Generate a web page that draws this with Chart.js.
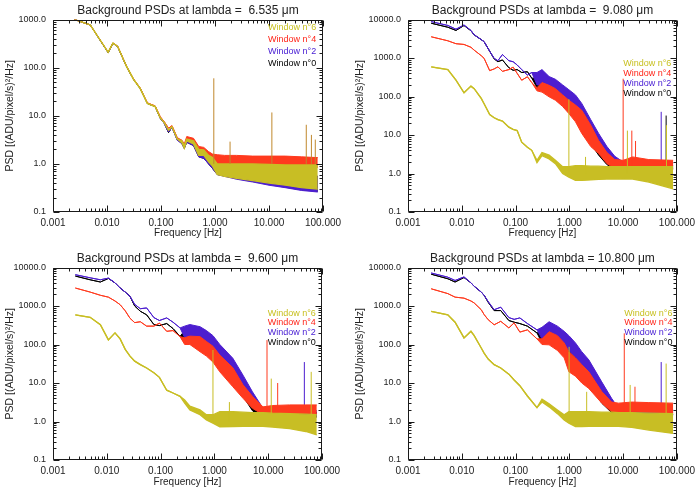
<!DOCTYPE html>
<html>
<head>
<meta charset="utf-8">
<script src="https://cdn.jsdelivr.net/npm/chart.js@4.4.1/dist/chart.umd.min.js"></script>
<style>
  html, body { margin: 0; padding: 0; background: #fff; }
  #wrap { position: relative; width: 700px; height: 495px; }
  .panel { position: absolute; }
</style>
</head>
<body>
<div id="wrap">
  <div class="panel" style="left:0;top:0;width:350px;height:245px"><canvas id="c1"></canvas></div>
  <div class="panel" style="left:350px;top:0;width:350px;height:245px"><canvas id="c2"></canvas></div>
  <div class="panel" style="left:0;top:245px;width:350px;height:250px"><canvas id="c3"></canvas></div>
  <div class="panel" style="left:350px;top:245px;width:350px;height:250px"><canvas id="c4"></canvas></div>
</div>
<script>
/* Background PSDs - 4 panneaux log-log */

// ---- donnees ----
const xDecades = [0.001, 0.01, 0.1, 1, 10, 100];
const yDecadesSmall = [0.1, 1, 10, 100, 1000];
const yDecadesBig = [0.1, 1, 10, 100, 1000, 10000];
const windows = [6, 4, 2, 0];
const spikeBase = 1;

// panneau 1 : lambda = 6.535
const p1LineFreq = [0.0025, 0.0049, 0.0105, 0.0129, 0.0157, 0.023, 0.031, 0.041, 0.056, 0.078, 0.097, 0.115, 0.138, 0.16, 0.2];
const p1W6Line = [1000, 770, 208, 322, 277, 106, 57, 37, 18, 15.5, 9.0, 7.2, 5.0, 5.9, 3.3];
const p1W4Line = [1000, 770, 210, 325, 280, 107, 58, 38, 18.5, 16, 9.5, 7.5, 5.5, 6.2, 3.5];
const p1W2Line = [1000, 770, 205, 320, 275, 105, 57, 37, 18, 15.5, 8.8, 6.9, 4.6, 5.7, 3.1];
const p1W0Line = [1000, 770, 205, 320, 275, 105, 57, 37, 18, 15.5, 8.9, 7.0, 4.5, 5.8, 3.2];
const p1BandFreq = [0.245, 0.27, 0.30, 0.40, 0.50, 0.62, 0.76, 0.9, 1.1, 1.5, 2.5, 5, 10, 20, 40, 80];
const p1W6Hi = [3.0, 2.4, 3.3, 3.0, 2.0, 1.95, 1.5, 1.35, 1.0, 1.0, 1.0, 1.0, 0.98, 0.95, 0.95, 0.95];
const p1W6Lo = [2.7, 2.1, 3.0, 2.6, 1.5, 1.5, 1.1, 0.9, 0.6, 0.55, 0.5, 0.45, 0.4, 0.36, 0.32, 0.3];
const p1W4Hi = [3.1, 2.6, 3.7, 3.4, 2.3, 2.2, 1.8, 1.6, 1.55, 1.5, 1.5, 1.45, 1.45, 1.45, 1.4, 1.35];
const p1W4Lo = [2.8, 2.3, 3.2, 2.7, 1.7, 1.7, 1.3, 1.15, 0.95, 0.95, 0.95, 0.92, 0.9, 0.9, 0.88, 0.85];
const p1W2Hi = [2.9, 2.3, 3.1, 2.8, 1.8, 1.8, 1.4, 1.2, 0.85, 0.85, 0.8, 0.75, 0.7, 0.65, 0.6, 0.55];
const p1W2Lo = [2.6, 2.1, 2.8, 2.4, 1.4, 1.3, 1.0, 0.8, 0.6, 0.55, 0.48, 0.42, 0.36, 0.32, 0.28, 0.26];
const p1W0Hi = [2.9, 2.3, 3.1, 2.8, 1.8, 1.8, 1.4, 1.2, 0.85, 0.85, 0.8, 0.75, 0.7, 0.65, 0.6, 0.55];
const p1W0Lo = [2.6, 2.1, 2.8, 2.4, 1.4, 1.3, 1.0, 0.8, 0.6, 0.56, 0.5, 0.44, 0.38, 0.33, 0.29, 0.27];
const p1SpikeFreq = [0.95, 1.9, 11.3, 49, 61, 72];
const p1SpikeTop = [60, 2.9, 11.7, 6.5, 4.0, 3.2];
const p1SpikeWin = [-1, -1, -1, -1, -1, -1];

// panneau 2 : lambda = 9.080
const p2LineFreq = [0.0027, 0.0055, 0.0078, 0.011, 0.0148, 0.017, 0.023, 0.026, 0.033, 0.04, 0.047, 0.057, 0.075, 0.09, 0.107, 0.13, 0.166, 0.2];
const p2W6Line = [590, 500, 265, 125, 186, 160, 89, 65, 34, 28, 25, 23, 16, 14, 13, 6.5, 4.8, 4.0];
const p2W4Line = [3560, 2800, 2350, 2250, 1900, 1600, 1150, 980, 470, 520, 590, 450, 500, 580, 400, 265, 325, 230];
const p2W2Line = [8800, 7000, 5600, 7200, 5200, 4000, 3000, 2650, 1500, 980, 850, 1230, 850, 800, 660, 500, 360, 420];
const p2W0Line = [8000, 6300, 5200, 7000, 5100, 4000, 3000, 2650, 1500, 950, 800, 890, 560, 480, 500, 420, 440, 300];
const p2BandFreq = [0.25, 0.31, 0.42, 0.55, 0.75, 0.98, 1.3, 1.7, 2.5, 3.5, 5, 7, 10, 15, 30, 85];
const p2W6Hi = [2.2, 3.5, 3.0, 2.2, 1.5, 1.5, 1.6, 1.6, 1.55, 1.55, 1.5, 1.5, 1.5, 1.5, 1.5, 1.5];
const p2W6Lo = [1.9, 2.9, 2.4, 1.8, 1.0, 0.8, 0.66, 0.66, 0.68, 0.7, 0.72, 0.72, 0.73, 0.72, 0.6, 0.4];
const p2W4Hi = [170, 230, 195, 160, 110, 80, 60, 44, 18, 7.2, 3.5, 2.3, 2.2, 2.7, 2.3, 2.2];
const p2W4Lo = [140, 130, 98, 80, 55, 36, 22, 11, 5, 3.3, 1.8, 1.35, 1.35, 1.4, 1.4, 1.35];
const p2W2Hi = [420, 500, 330, 280, 200, 150, 110, 66, 25, 11, 5, 2.8, 2.0, 1.9, 1.8, 1.8];
const p2W2Lo = [200, 200, 150, 120, 90, 60, 40, 20, 8, 4, 2.2, 1.6, 1.4, 1.4, 1.4, 1.4];
const p2W0Hi = [300, 330, 280, 240, 170, 130, 90, 55, 20, 9, 4.2, 2.4, 1.8, 1.7, 1.6, 1.6];
const p2W0Lo = [170, 160, 130, 100, 70, 45, 30, 15, 6, 3, 1.7, 1.3, 1.25, 1.3, 1.3, 1.3];
const p2SpikeFreq = [0.98, 2.0, 10, 12, 14.5, 17, 51, 63, 64];
const p2SpikeTop = [85, 2.7, 290, 13, 13, 7, 40, 32, 18];
const p2SpikeWin = [6, 6, 4, 6, 4, 4, 2, 0, 6];

// panneau 3 : lambda = 9.600
const p3LineFreq = [0.0026, 0.0049, 0.0076, 0.0107, 0.0142, 0.0177, 0.022, 0.027, 0.033, 0.042, 0.055, 0.075, 0.095, 0.13, 0.17, 0.23];
const p3W6Line = [590, 510, 325, 132, 200, 140, 75, 50, 37, 30, 24.5, 18.5, 14, 6.5, 5.5, 4.5];
const p3W4Line = [2930, 2300, 1900, 1700, 1350, 1080, 750, 480, 370, 390, 300, 300, 360, 220, 230, 160];
const p3W2Line = [6500, 5400, 4800, 5300, 4000, 2930, 2300, 1780, 1100, 850, 890, 500, 420, 490, 380, 270];
const p3W0Line = [6000, 4800, 4200, 5200, 4000, 2930, 2300, 1780, 1000, 730, 590, 330, 310, 350, 260, 163];
const p3BandFreq = [0.28, 0.35, 0.54, 0.71, 0.94, 1.26, 2.2, 3.4, 5.1, 8, 12, 25, 50, 80];
const p3W6Hi = [3.6, 2.5, 2.0, 1.5, 1.5, 1.8, 1.8, 1.75, 1.7, 1.7, 1.65, 1.6, 1.55, 1.5];
const p3W6Lo = [3.0, 2.0, 1.5, 1.1, 0.9, 0.73, 0.74, 0.75, 0.75, 0.75, 0.72, 0.65, 0.55, 0.45];
const p3W4Hi = [150, 165, 160, 120, 90, 53, 25, 9, 4.5, 2.4, 2.6, 2.7, 2.7, 2.7];
const p3W4Lo = [100, 100, 65, 50, 35, 19.5, 8, 4, 2.2, 1.5, 1.55, 1.6, 1.6, 1.6];
const p3W2Hi = [300, 330, 290, 230, 170, 100, 44, 16, 5.9, 2.2, 2.0, 1.9, 1.9, 1.9];
const p3W2Lo = [150, 150, 120, 90, 60, 35, 15, 6, 2.5, 1.5, 1.4, 1.4, 1.4, 1.4];
const p3W0Hi = [230, 250, 220, 180, 130, 80, 35, 13, 4.5, 2.0, 1.8, 1.7, 1.7, 1.7];
const p3W0Lo = [110, 120, 95, 70, 45, 28, 11, 4.5, 1.9, 1.2, 1.25, 1.3, 1.3, 1.3];
const p3SpikeFreq = [0.94, 1.9, 9.5, 11.4, 15, 47, 63];
const p3SpikeTop = [72, 3.2, 130, 13, 10, 35, 19.5];
const p3SpikeWin = [6, 6, 4, 6, 4, 2, 6];

// panneau 4 : lambda = 10.800
const p4LineFreq = [0.0027, 0.0055, 0.0075, 0.011, 0.0148, 0.017, 0.023, 0.026, 0.031, 0.040, 0.053, 0.075, 0.094, 0.12, 0.166, 0.25];
const p4W6Line = [730, 590, 380, 148, 220, 170, 81, 60, 42, 30, 24.5, 17, 12, 8.5, 4.6, 2.3];
const p4W4Line = [2800, 2100, 1700, 1600, 1350, 1200, 800, 600, 440, 325, 400, 270, 365, 210, 240, 140];
const p4W2Line = [7200, 5600, 4600, 5700, 4000, 3250, 2300, 1900, 1300, 800, 930, 500, 450, 490, 350, 240];
const p4W0Line = [6700, 5100, 4200, 5500, 4000, 3250, 2300, 1900, 1250, 760, 760, 420, 380, 350, 300, 200];
const p4BandFreq = [0.31, 0.42, 0.6, 0.8, 0.98, 1.3, 1.7, 2.3, 4, 6.1, 8.2, 14.5, 30, 85];
const p4W6Hi = [3.8, 2.9, 2.0, 1.5, 1.8, 1.8, 1.8, 1.8, 1.75, 1.75, 1.7, 1.7, 1.65, 1.6];
const p4W6Lo = [3.2, 2.4, 1.6, 1.1, 0.9, 0.74, 0.74, 0.75, 0.75, 0.75, 0.75, 0.7, 0.6, 0.49];
const p4W4Hi = [140, 215, 170, 110, 65, 45, 30, 19.5, 6, 3.2, 3.0, 3.2, 3.1, 3.0];
const p4W4Lo = [100, 98, 70, 45, 19.5, 15, 10, 7.2, 3, 1.8, 1.7, 1.8, 1.75, 1.7];
const p4W2Hi = [280, 390, 300, 220, 170, 110, 65, 40, 10.7, 4, 2.2, 2.1, 2.0, 2.0];
const p4W2Lo = [140, 170, 130, 100, 70, 45, 25, 14, 4, 2, 1.5, 1.5, 1.5, 1.5];
const p4W0Hi = [220, 290, 240, 180, 140, 90, 50, 32, 8.5, 3.2, 2.0, 1.9, 1.9, 1.9];
const p4W0Lo = [110, 130, 100, 75, 50, 32, 18, 10, 3, 1.7, 1.5, 1.5, 1.5, 1.5];
const p4SpikeFreq = [0.99, 2.1, 10.5, 13.5, 16.6, 51, 63];
const p4SpikeTop = [87, 5.9, 195, 8.9, 8, 35, 32];
const p4SpikeWin = [6, 6, 4, 6, 4, 2, 6];

// ---- styles ----
const FONT = 'Liberation Sans';
const lineColors = { 6: '#c8be24', 4: '#ff3a1e', 2: '#4c1ecf', 0: '#000000', '-1': '#c0882c' };
const legendColors = { 6: '#c8c020', 4: '#ff2418', 2: '#4a20d4', 0: '#000000' };
const drawOrder = { 6: 0, 4: 1, 2: 2, 0: 3, '-1': -1 };

function curve(lineFreq, lineVals, bandFreq, bandVals) {
  const pts = lineFreq.map((f, i) => ({ x: f, y: lineVals[i] }));
  return pts.concat(bandFreq.map((f, i) => ({ x: f, y: bandVals[i] })));
}

function spikePoints(freq, top, win, w) {
  const pts = [];
  freq.forEach((f, i) => {
    if (win[i] !== w) return;
    pts.push({ x: f, y: spikeBase }, { x: f, y: top[i] }, { x: f, y: null });
  });
  return pts;
}

// cadre + graduations vers l'interieur (style IDL)
const frameTicks = {
  id: 'frameTicks',
  afterDraw(chart) {
    const { ctx, chartArea: a } = chart;
    const xs = chart.scales.x, ys = chart.scales.y;
    const L = Math.round(a.left) + 0.5, R = Math.round(a.right) - 0.5;
    const T = Math.round(a.top) + 0.5, B = Math.round(a.bottom) - 0.5;
    ctx.save();
    ctx.strokeStyle = '#1a1a1a';
    ctx.lineWidth = 1;
    ctx.beginPath();
    ctx.rect(L, T, R - L, B - T);
    const each = (scale, fn) => {
      const e0 = Math.round(Math.log10(scale.min)), e1 = Math.round(Math.log10(scale.max));
      for (let e = e0; e <= e1; e++) {
        for (let k = 1; k < 10; k++) {
          if (e === e1 && k > 1) break;
          fn(k * Math.pow(10, e), k === 1);
        }
      }
    };
    each(xs, (v, major) => {
      const p = Math.round(xs.getPixelForValue(v)) + 0.5;
      const len = major ? 6 : 3;
      ctx.moveTo(p, B); ctx.lineTo(p, B - len);
      ctx.moveTo(p, T); ctx.lineTo(p, T + len);
    });
    each(ys, (v, major) => {
      const p = Math.round(ys.getPixelForValue(v)) + 0.5;
      const len = major ? 6 : 3;
      ctx.moveTo(L, p); ctx.lineTo(L + len, p);
      ctx.moveTo(R, p); ctx.lineTo(R - len, p);
    });
    ctx.stroke();
    ctx.restore();
  }
};

// legende en texte colore, placee en coordonnees donnees
const winLegend = {
  id: 'winLegend',
  afterDraw(chart, args, opts) {
    const { ctx } = chart;
    const xs = chart.scales.x, ys = chart.scales.y;
    ctx.save();
    ctx.font = '9px "' + FONT + '"';
    ctx.textAlign = 'left';
    ctx.textBaseline = 'middle';
    windows.forEach((w, i) => {
      ctx.fillStyle = legendColors[w];
      const px = xs.getPixelForValue(opts.freq);
      const py = ys.getPixelForValue(opts.top / Math.pow(10, opts.step * i));
      ctx.fillText('Window n\u00b0' + w, px, py);
    });
    ctx.restore();
  }
};

function makePanel(id, cfg) {
  const datasets = [];
  windows.forEach(w => {
    const s = cfg.series[w];
    const c = lineColors[w];
    const bw = w === 6 ? 1.3 : 1;
    datasets.push({
      data: curve(cfg.lineFreq, s.line, cfg.bandFreq, s.hi),
      borderColor: c, backgroundColor: c, borderWidth: bw,
      fill: '+1', order: drawOrder[w]
    });
    datasets.push({
      data: curve(cfg.lineFreq, s.line, cfg.bandFreq, s.lo),
      borderColor: c, borderWidth: bw, fill: false, order: drawOrder[w]
    });
  });
  [...new Set(cfg.spikeWin)].forEach(w => {
    datasets.push({
      data: spikePoints(cfg.spikeFreq, cfg.spikeTop, cfg.spikeWin, w),
      borderColor: lineColors[w], borderWidth: 1, fill: false,
      spanGaps: false, order: drawOrder[w] - 0.5
    });
  });

  const lay = cfg.layout;
  new Chart(document.getElementById(id), {
    type: 'line',
    data: { datasets },
    options: {
      responsive: true,
      maintainAspectRatio: false,
      animation: false,
      devicePixelRatio: 1,
      layout: { padding: { left: 0, right: lay.right, top: 0, bottom: 0 } },
      elements: { point: { radius: 0 }, line: { tension: 0 } },
      plugins: {
        legend: { display: false },
        tooltip: { enabled: false },
        title: {
          display: true,
          text: cfg.title,
          fullSize: false,
          color: '#222',
          font: { family: FONT, size: 12, weight: 'normal', lineHeight: 1.2 },
          padding: { top: lay.top - 16.4, bottom: 2 }
        },
        winLegend: cfg.legend
      },
      scales: {
        x: {
          type: 'logarithmic',
          min: 0.001, max: 100,
          grid: { display: false, drawTicks: false },
          border: { display: false },
          afterFit: sc => { sc.height = lay.bottom; },
          afterBuildTicks: sc => { sc.ticks = xDecades.map(v => ({ value: v })); },
          ticks: {
            autoSkip: false, maxRotation: 0, padding: 5, color: '#222',
            font: { family: FONT, size: 10 },
            callback: v => Number(v).toFixed(3)
          },
          title: {
            display: true, text: 'Frequency [Hz]', color: '#222',
            font: { family: FONT, size: 10 },
            padding: { top: 0, bottom: lay.xTitlePad }
          }
        },
        y: {
          type: 'logarithmic',
          min: 0.1, max: cfg.yMax,
          grid: { display: false, drawTicks: false },
          border: { display: false },
          afterFit: sc => { sc.width = lay.left; },
          afterBuildTicks: sc => { sc.ticks = cfg.yTicks.map(v => ({ value: v })); },
          ticks: {
            autoSkip: false, padding: 7, color: '#222',
            font: { family: FONT, size: 9 },
            callback: v => Number(v).toFixed(1)
          },
          title: {
            display: true, text: 'PSD [(ADU/pixel/s)\u00b2/Hz]', color: '#222',
            font: { family: FONT, size: 10.5 },
            padding: { top: 4, bottom: 0 }
          }
        }
      }
    },
    plugins: [frameTicks, winLegend]
  });
}

makePanel('c1', {
  title: 'Background PSDs at lambda =  6.535 \u03bcm',
  yMax: 1000, yTicks: yDecadesSmall,
  lineFreq: p1LineFreq, bandFreq: p1BandFreq,
  series: {
    6: { line: p1W6Line, hi: p1W6Hi, lo: p1W6Lo },
    4: { line: p1W4Line, hi: p1W4Hi, lo: p1W4Lo },
    2: { line: p1W2Line, hi: p1W2Hi, lo: p1W2Lo },
    0: { line: p1W0Line, hi: p1W0Hi, lo: p1W0Lo }
  },
  spikeFreq: p1SpikeFreq, spikeTop: p1SpikeTop, spikeWin: p1SpikeWin,
  layout: { left: 53, right: 27, top: 19.5, bottom: 33, xTitlePad: 6 },
  legend: { freq: 9.6, top: 680, step: 0.25 }
});

makePanel('c2', {
  title: 'Background PSDs at lambda =  9.080 \u03bcm',
  yMax: 10000, yTicks: yDecadesBig,
  lineFreq: p2LineFreq, bandFreq: p2BandFreq,
  series: {
    6: { line: p2W6Line, hi: p2W6Hi, lo: p2W6Lo },
    4: { line: p2W4Line, hi: p2W4Hi, lo: p2W4Lo },
    2: { line: p2W2Line, hi: p2W2Hi, lo: p2W2Lo },
    0: { line: p2W0Line, hi: p2W0Hi, lo: p2W0Lo }
  },
  spikeFreq: p2SpikeFreq, spikeTop: p2SpikeTop, spikeWin: p2SpikeWin,
  layout: { left: 58, right: 21, top: 19.5, bottom: 33, xTitlePad: 6 },
  legend: { freq: 10, top: 720, step: 0.26 }
});

makePanel('c3', {
  title: 'Background PSDs at lambda =  9.600 \u03bcm',
  yMax: 10000, yTicks: yDecadesBig,
  lineFreq: p3LineFreq, bandFreq: p3BandFreq,
  series: {
    6: { line: p3W6Line, hi: p3W6Hi, lo: p3W6Lo },
    4: { line: p3W4Line, hi: p3W4Hi, lo: p3W4Lo },
    2: { line: p3W2Line, hi: p3W2Hi, lo: p3W2Lo },
    0: { line: p3W0Line, hi: p3W0Hi, lo: p3W0Lo }
  },
  spikeFreq: p3SpikeFreq, spikeTop: p3SpikeTop, spikeWin: p3SpikeWin,
  layout: { left: 53, right: 28, top: 22.5, bottom: 35, xTitlePad: 7 },
  legend: { freq: 9.8, top: 650, step: 0.25 }
});

makePanel('c4', {
  title: 'Background PSDs at lambda = 10.800 \u03bcm',
  yMax: 10000, yTicks: yDecadesBig,
  lineFreq: p4LineFreq, bandFreq: p4BandFreq,
  series: {
    6: { line: p4W6Line, hi: p4W6Hi, lo: p4W6Lo },
    4: { line: p4W4Line, hi: p4W4Hi, lo: p4W4Lo },
    2: { line: p4W2Line, hi: p4W2Hi, lo: p4W2Lo },
    0: { line: p4W0Line, hi: p4W0Hi, lo: p4W0Lo }
  },
  spikeFreq: p4SpikeFreq, spikeTop: p4SpikeTop, spikeWin: p4SpikeWin,
  layout: { left: 58, right: 21, top: 22.5, bottom: 35, xTitlePad: 7 },
  legend: { freq: 10.5, top: 650, step: 0.25 }
});
</script>
</body>
</html>
